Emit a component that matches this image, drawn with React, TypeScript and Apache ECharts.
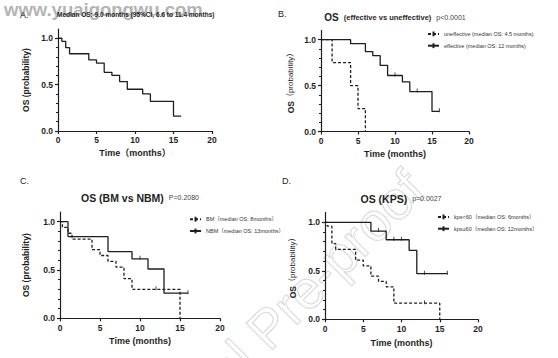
import React, { useEffect, useRef } from 'react';
import * as echarts from 'echarts';

const FONT = '"Liberation Sans", Arial, "Noto Sans CJK SC", sans-serif';
const INK = '#1e1e1e';

// Panel A – all patients
const aTimes = [0, 0.5, 1, 1.5, 4, 5, 6, 7, 8, 9, 11, 12, 15, 16];
const aSurv = [1, 0.967, 0.9, 0.833, 0.767, 0.733, 0.633, 0.6, 0.533, 0.45, 0.4, 0.32, 0.16, 0.16];

// Panel B – effective vs uneffective
const bUnTimes = [0, 1.5, 4, 5, 6];
const bUnSurv = [1, 0.75, 0.5, 0.25, 0];
const bEfTimes = [0, 4, 6, 7, 8, 9, 11, 12, 15, 16];
const bEfSurv = [1, 0.957, 0.87, 0.826, 0.72, 0.61, 0.54, 0.435, 0.22, 0.22];
const bEfCensT = [10, 13, 16];
const bEfCensS = [0.61, 0.435, 0.22];

// Panel C – BM vs NBM
const cBmTimes = [0, 0.3, 1, 1.5, 4, 5, 6, 7, 8, 9, 15];
const cBmSurv = [1, 0.94, 0.88, 0.82, 0.71, 0.65, 0.59, 0.53, 0.41, 0.3, 0];
const cBmCensT = [12];
const cBmCensS = [0.3];
const cNbmTimes = [0, 1, 6, 9, 11, 13, 16];
const cNbmSurv = [1, 0.846, 0.69, 0.615, 0.51, 0.26, 0.26];
const cNbmCensT = [10, 16];
const cNbmCensS = [0.615, 0.26];

// Panel D – KPS
const dLoTimes = [0, 0.3, 0.9, 1.4, 4, 5, 6, 7, 8, 9, 15];
const dLoSurv = [1, 0.96, 0.78, 0.72, 0.61, 0.55, 0.445, 0.39, 0.335, 0.166, 0];
const dLoCensT = [13];
const dLoCensS = [0.166];
const dHiTimes = [0, 6, 8, 11, 12, 16];
const dHiSurv = [1, 0.91, 0.82, 0.71, 0.47, 0.47];
const dHiCensT = [7, 9, 10, 13, 16];
const dHiCensS = [0.91, 0.82, 0.82, 0.47, 0.47];

const xTicks = [0, 5, 10, 15, 20];
const yTickLabels = [0, 0.5, 1];

const legB = ['uneffective (median OS: 4.5 months)', 'effective (median OS: 12 months)'];
const legC = ['BM（median OS: 8months）', 'NBM（median OS: 13months）'];
const legD = ['kps<60（median OS: 6months）', 'kps≥60（median OS: 12months）'];

const pair = (t: number[], s: number[]) => t.map((v, i) => [v, s[i]]);

function km(name: string, t: number[], s: number[], idx: number, dashed: boolean) {
  return {
    type: 'line',
    name,
    xAxisIndex: idx,
    yAxisIndex: idx,
    data: pair(t, s),
    step: 'end',
    symbol: 'line',
    symbolRotate: 90,
    symbolSize: 5,
    showSymbol: false,
    silent: true,
    lineStyle: { color: INK, width: 1.3, type: dashed ? [3, 2] : 'solid' },
    itemStyle: { color: INK, borderColor: INK, borderWidth: 1 },
    z: 3,
  };
}

function cens(t: number[], s: number[], idx: number) {
  return {
    type: 'scatter',
    xAxisIndex: idx,
    yAxisIndex: idx,
    data: pair(t, s),
    symbol: 'rect',
    symbolSize: [1, 4],
    symbolOffset: [0, -1],
    silent: true,
    itemStyle: { color: INK },
    z: 4,
  };
}

function xAx(idx: number, name: string, gap: number) {
  return {
    type: 'value',
    gridIndex: idx,
    min: xTicks[0],
    max: xTicks[xTicks.length - 1],
    interval: 5,
    axisLine: { show: true, onZero: false, lineStyle: { color: INK, width: 1.2 } },
    axisTick: { show: true, length: 3, lineStyle: { color: INK, width: 1.2 } },
    axisLabel: { fontSize: 8.5, fontWeight: 'bold', color: INK, margin: 5, fontFamily: FONT },
    splitLine: { show: false },
    name,
    nameLocation: 'middle',
    nameGap: gap,
    nameTextStyle: { fontSize: 9, fontWeight: 'bold', color: INK, fontFamily: FONT },
  };
}

function yAx(idx: number, name: string, gap: number, rich: boolean) {
  return {
    type: 'value',
    gridIndex: idx,
    min: 0,
    max: 1.1,
    interval: 0.5,
    axisLine: { show: true, onZero: false, lineStyle: { color: INK, width: 1.2 } },
    axisTick: { show: true, length: 3, lineStyle: { color: INK, width: 1.2 }, customValues: yTickLabels },
    minorTick: { show: true, splitNumber: 5, length: 2, lineStyle: { color: INK, width: 1 } },
    axisLabel: {
      fontSize: 8.5,
      fontWeight: 'bold',
      color: INK,
      margin: 5,
      fontFamily: FONT,
      formatter: (v: number) => (yTickLabels.some((u) => Math.abs(u - v) < 1e-6) ? v.toFixed(1) : ''),
    },
    splitLine: { show: false },
    minorSplitLine: { show: false },
    name,
    nameLocation: 'middle',
    nameGap: gap,
    nameRotate: 90,
    nameTextStyle: rich
      ? {
          fontFamily: FONT,
          color: INK,
          rich: {
            b: { fontSize: 8.5, fontWeight: 'bold', color: INK, fontFamily: FONT },
            n: { fontSize: 8, color: INK, fontFamily: FONT },
          },
        }
      : { fontSize: 8.5, fontWeight: 'bold', color: INK, fontFamily: FONT },
  };
}

function legend(names: string[], left: number, top: number) {
  return {
    data: names,
    orient: 'vertical',
    left,
    top,
    padding: 0,
    itemWidth: 11,
    itemHeight: 6,
    itemGap: 5,
    selectedMode: false,
    textStyle: { fontSize: 5.5, color: '#333', fontFamily: FONT },
  };
}

export default function App() {
  const ref = useRef<HTMLDivElement>(null);
  useEffect(() => {
    if (!ref.current) return;
    const chart = echarts.init(ref.current, undefined, { renderer: 'svg' });
    chart.setOption({
      animation: false,
      backgroundColor: '#ffffff',
      textStyle: { fontFamily: FONT },
      grid: [
        { left: 58, top: 29, width: 154, height: 102 },
        { left: 321, top: 30.5, width: 148, height: 101 },
        { left: 60, top: 212, width: 160, height: 106.3 },
        { left: 325, top: 212.6, width: 153, height: 106.7 },
      ],
      xAxis: [
        xAx(0, 'Time（months）', 17),
        xAx(1, 'Time (months)', 18),
        xAx(2, 'Time (months)', 18),
        xAx(3, 'Time (months)', 19),
      ],
      yAxis: [
        yAx(0, 'OS (probability)', 28, false),
        yAx(1, '{b|OS}{n|（probability）}', 26, true),
        yAx(2, 'OS (probability)', 30, false),
        yAx(3, '{b|OS}{n|（probability）}', 28, true),
      ],
      legend: [legend(legB, 427, 30.5), legend(legC, 189, 215.8), legend(legD, 437, 213.5)],
      title: [
        {
          text: 'Median OS: 9.0 months (95%CI, 6.6 to 11.4 months)',
          left: 57,
          top: 11.5,
          padding: 0,
          textStyle: { fontSize: 6.5, fontWeight: 'bold', color: '#222', fontFamily: FONT },
        },
        {
          text: '{a|OS} {b|(effective vs uneffective)} {c|p<0.0001}',
          left: 395,
          top: 9,
          padding: 0,
          textAlign: 'center',
          textStyle: {
            rich: {
              a: { fontSize: 10, fontWeight: 'bold', color: INK, fontFamily: FONT },
              b: { fontSize: 7.5, fontWeight: 'bold', color: INK, fontFamily: FONT },
              c: { fontSize: 7, fontWeight: 'normal', color: '#444', fontFamily: FONT },
            },
          },
        },
        {
          text: '{a|OS (BM vs NBM)} {c|P=0.2080}',
          left: 140,
          top: 189,
          padding: 0,
          textAlign: 'center',
          textStyle: {
            rich: {
              a: { fontSize: 10.5, fontWeight: 'bold', color: INK, fontFamily: FONT },
              c: { fontSize: 7, fontWeight: 'normal', color: '#444', fontFamily: FONT },
            },
          },
        },
        {
          text: '{a|OS (KPS)} {c|p=0.0027}',
          left: 401,
          top: 190,
          padding: 0,
          textAlign: 'center',
          textStyle: {
            rich: {
              a: { fontSize: 10.5, fontWeight: 'bold', color: INK, fontFamily: FONT },
              c: { fontSize: 7, fontWeight: 'normal', color: '#444', fontFamily: FONT },
            },
          },
        },
      ],
      graphic: [
        {
          type: 'text',
          x: 120,
          y: 475,
          rotation: Math.PI / 4,
          z: 0,
          silent: true,
          style: {
            text: 'Journal Pre-proof',
            fontSize: 54,
            fontFamily: FONT,
            fill: 'none',
            stroke: '#d6d6d6',
            lineWidth: 1,
            textVerticalAlign: 'middle',
          },
        },
        {
          type: 'text',
          x: 4,
          y: 0,
          z: 0,
          silent: true,
          style: {
            text: 'www.yuaigongwu.com',
            fontSize: 18.5,
            fontWeight: 'bold',
            fontFamily: FONT,
            fill: '#b4b4b4',
            textVerticalAlign: 'top',
          },
        },
        { type: 'text', x: 20, y: 15, z: 10, style: { text: 'A.', fontSize: 9, fontFamily: FONT, fill: INK, textVerticalAlign: 'middle' } },
        { type: 'text', x: 278, y: 14, z: 10, style: { text: 'B.', fontSize: 9, fontFamily: FONT, fill: INK, textVerticalAlign: 'middle' } },
        { type: 'text', x: 20, y: 181, z: 10, style: { text: 'C.', fontSize: 9, fontFamily: FONT, fill: INK, textVerticalAlign: 'middle' } },
        { type: 'text', x: 282, y: 181, z: 10, style: { text: 'D.', fontSize: 9, fontFamily: FONT, fill: INK, textVerticalAlign: 'middle' } },
      ],
      series: [
        km('All patients', aTimes, aSurv, 0, false),
        km(legB[0], bUnTimes, bUnSurv, 1, true),
        km(legB[1], bEfTimes, bEfSurv, 1, false),
        cens(bEfCensT, bEfCensS, 1),
        km(legC[0], cBmTimes, cBmSurv, 2, true),
        km(legC[1], cNbmTimes, cNbmSurv, 2, false),
        cens(cBmCensT, cBmCensS, 2),
        cens(cNbmCensT, cNbmCensS, 2),
        km(legD[0], dLoTimes, dLoSurv, 3, true),
        km(legD[1], dHiTimes, dHiSurv, 3, false),
        cens(dLoCensT, dLoCensS, 3),
        cens(dHiCensT, dHiCensS, 3),
      ],
    });
    return () => chart.dispose();
  }, []);
  return <div ref={ref} style={{ position: 'absolute', left: 0, top: 0, width: 558, height: 358 }} />;
}
